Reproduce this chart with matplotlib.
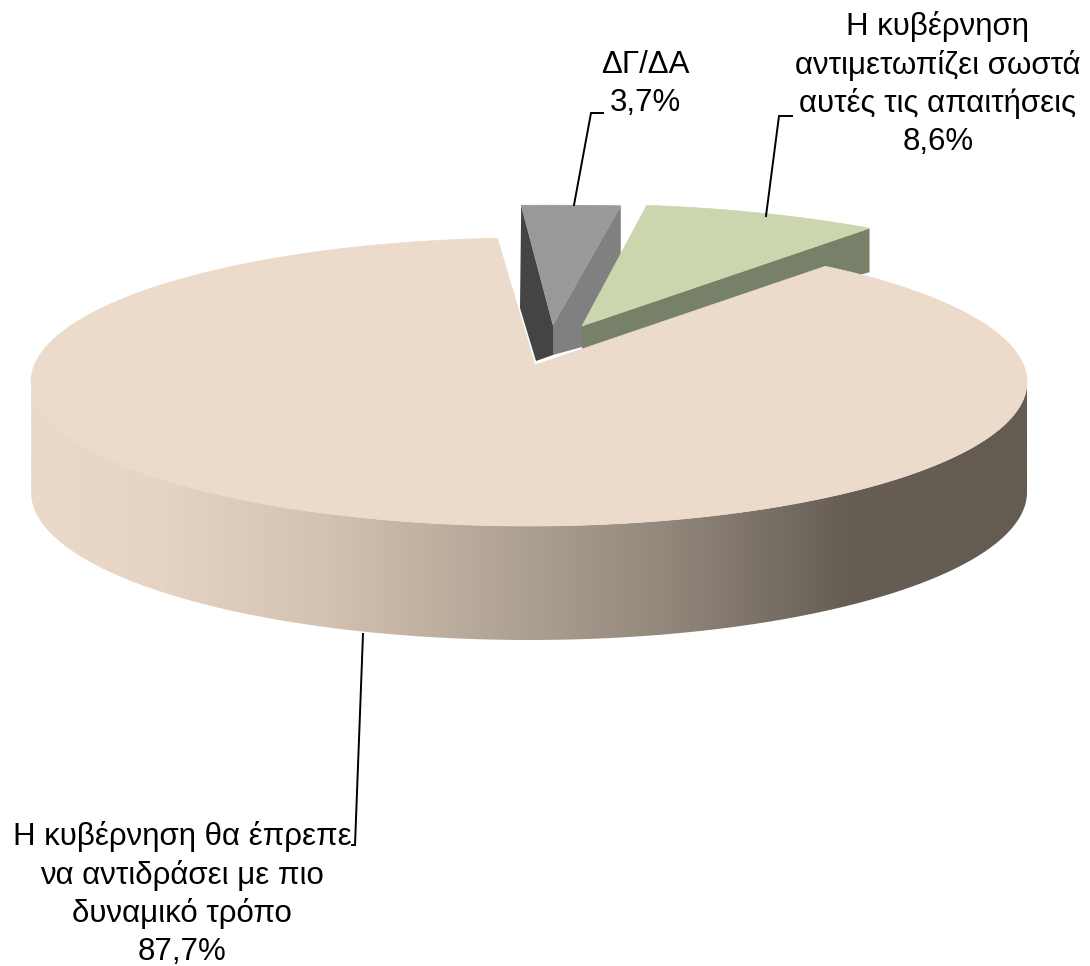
import numpy as np
import matplotlib
matplotlib.use("Agg")
import matplotlib.pyplot as plt
from matplotlib.patches import Polygon
from matplotlib.colors import LinearSegmentedColormap

# Data
categories = ["Η κυβέρνηση θα έπρεπε\nνα αντιδράσει με πιο\nδυναμικό τρόπο",
              "Η κυβέρνηση\nαντιμετωπίζει σωστά\nαυτές τις απαιτήσεις",
              "ΔΓ/ΔΑ"]
shares = [87.7, 8.6, 3.7]
value_labels = ["87,7%", "8,6%", "3,7%"]

# Style / geometry (pixel space)
W, H = 1090, 966
A, B = 498.0, 144.0
OFFSET = np.array([-6.0, 17.0])          # ellipse centre relative to apex
START = 94.76                            # direction of the first slice edge
DIR_B = 0.97                             # vertical squash of the ray directions
GREY_TURN = -0.5                         # small view correction for the far slice
apex = [np.array([535.0, 365.0]), np.array([582.0, 326.0]), np.array([553.0, 325.0])]
scale_a = [1.0, 1.045, 1.6]
scale_b = [1.0, 0.965, 0.95]
DEPTH = 110.0
TOP = ["#ecdacb", "#cbd5ae", "#999999"]

plt.rcParams["font.family"] = ["Liberation Sans", "DejaVu Sans"]
fig = plt.figure(figsize=(W / 100, H / 100), dpi=100)
ax = fig.add_axes([0, 0, 1, 1])
ax.set_xlim(0, W)
ax.set_ylim(H, 0)
ax.axis("off")


def arc(i, t0, t1, n=400):
    """Points where rays from the apex, at directions t0..t1, meet the rim."""
    c = apex[i] + OFFSET
    a, b = A * scale_a[i], B * scale_b[i]
    pts = []
    for t in np.radians(np.linspace(t0, t1, n)):
        d = np.array([A * np.cos(t), -B * DIR_B * np.sin(t)])
        p = apex[i] - c
        qa = (d[0] / a) ** 2 + (d[1] / b) ** 2
        qb = 2 * (p[0] * d[0] / a ** 2 + p[1] * d[1] / b ** 2)
        qc = (p[0] / a) ** 2 + (p[1] / b) ** 2 - 1
        s = (-qb + np.sqrt(qb ** 2 - 4 * qa * qc)) / (2 * qa)
        pts.append(apex[i] + s * d)
    return np.array(pts)


angles = np.array(shares) / sum(shares) * 360
main_end = START + angles[0]              # counter-clockwise over the front
green_t0 = main_end - 360
green_t1 = green_t0 + angles[1]
grey_t0, grey_t1 = green_t1 + GREY_TURN, green_t1 + angles[2] + GREY_TURN

# Grey slice
g = arc(2, grey_t0, grey_t1)
tip = apex[2]
d = np.array([0, 30.0])
ax.add_patch(Polygon([g[-1], tip, tip + d, (536, 361), (520, 308)], fc="#444444", ec="none", zorder=2))
ax.add_patch(Polygon([g[0], tip, tip + d, (582, 347), g[0] + (0, 60)], fc="#808080", ec="none", zorder=2))
ax.add_patch(Polygon(np.vstack([[tip], g]), fc=TOP[2], ec=TOP[2], lw=0.5, zorder=3))

# Green slice
g2 = arc(1, green_t0, green_t1)
tip2 = apex[1]
dz = np.array([0, 44.0])
ax.add_patch(Polygon([tip2, g2[0], g2[0] + dz, tip2 + (0, 24)], fc="#778068", ec="none", zorder=4))
ax.add_patch(Polygon(np.vstack([[tip2], g2]), fc=TOP[1], ec=TOP[1], lw=0.5, zorder=5))

# Main slice: side with gradient, then top
rim = arc(0, START, main_end, 800)
c0 = apex[0] + OFFSET
t = np.radians(np.linspace(180, 360, 400))
upper = np.c_[c0[0] + A * np.cos(t), c0[1] - B * np.sin(t)]
lower = np.c_[c0[0] + A * np.cos(t), c0[1] + DEPTH - (B + 4) * np.sin(t)]
side = Polygon(np.vstack([upper, lower[::-1]]), fc="none", ec="none", transform=ax.transData)
ax.add_patch(side)
stops = [(0.0, "#ebd9ca"), (0.12, "#e6d4c5"), (0.3, "#d3c1b1"), (0.47, "#b2a596"),
         (0.65, "#8f8579"), (0.82, "#665d55"), (1.0, "#645b53")]
cmap = LinearSegmentedColormap.from_list("side", stops)
im = ax.imshow(np.linspace(0, 1, 512)[None, :], cmap=cmap, aspect="auto",
               extent=[c0[0] - A, c0[0] + A, 660, 360], zorder=6, interpolation="bilinear")
im.set_clip_path(side)
ax.set_xlim(0, W)
ax.set_ylim(H, 0)
ax.add_patch(Polygon(np.vstack([[apex[0]], rim]), fc=TOP[0], ec=TOP[0], lw=0.5, zorder=7))

# Labels and leaders
FS = 22.5
LS = 1.31
ax.text(182, 894, categories[0] + "\n" + value_labels[0], ha="center", va="center",
        fontsize=FS, linespacing=LS, color="black", zorder=10)
ax.text(938, 84, categories[1] + "\n" + value_labels[1], ha="center", va="center",
        fontsize=FS, linespacing=LS, color="black", zorder=10)
ax.text(645, 84, categories[2] + "\n" + value_labels[2], ha="center", va="center",
        fontsize=FS, linespacing=LS, color="black", zorder=10)
leaders = [([363, 355, 352], [634, 845, 845]),
           ([766, 779, 792], [216, 116, 116]),
           ([574, 591, 603], [205, 113, 113])]
for xs, ys in leaders:
    ax.plot(xs, ys, color="black", lw=1.4, zorder=9, solid_joinstyle="miter")

fig.savefig("out.png", dpi=100, facecolor="white")
